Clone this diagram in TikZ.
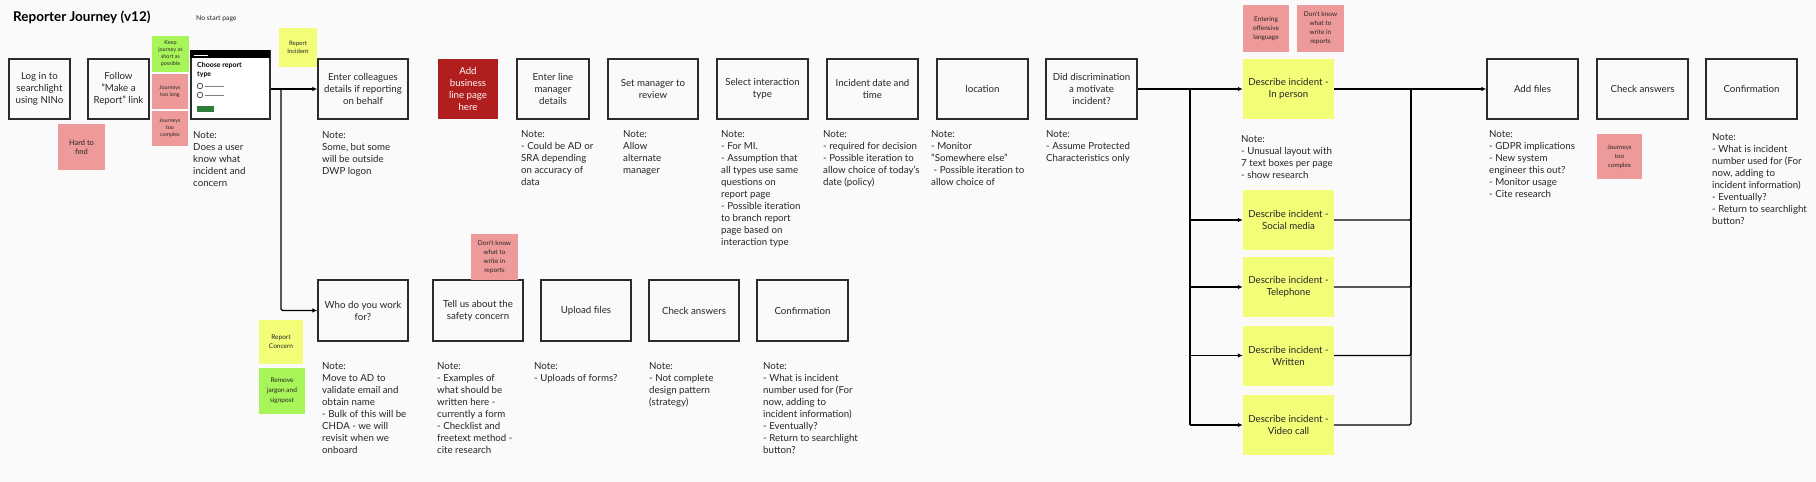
\documentclass[tikz,border=0pt]{standalone}
\usepackage{fontspec}
\setmainfont{Lato}
\usetikzlibrary{arrows.meta}
\definecolor{bgc}{HTML}{FAFAFA}
\definecolor{boxc}{HTML}{2B2B2B}
\definecolor{txt}{HTML}{262626}
\definecolor{pinkc}{HTML}{EF9A9A}
\definecolor{yellowc}{HTML}{F3FD78}
\definecolor{greenc}{HTML}{A8F55A}
\definecolor{darkred}{HTML}{B01E1E}
\definecolor{btngreen}{HTML}{2E7D3A}
\tikzset{
  stepbox/.style={draw=boxc, line width=1.3pt, minimum height=60pt, minimum width=91pt,
    align=center, font=\fontsize{9.7}{12}\selectfont, text=txt, inner sep=1pt},
  descbox/.style={fill=yellowc, minimum height=60pt, minimum width=91pt,
    align=center, font=\fontsize{9.7}{12}\selectfont, text=txt, inner sep=1pt},
  sticky/.style={minimum width=46pt, minimum height=46pt, align=center,
    font=\fontsize{6.5}{9}\selectfont, text=txt, inner sep=1pt},
  pinkst/.style={sticky, fill=pinkc},
  yellowst/.style={sticky, fill=yellowc},
  greenst/.style={sticky, fill=greenc},
  note/.style={anchor=north west, align=left, inner sep=0pt,
    font=\fontsize{9.7}{12}\selectfont, text=txt},
  conn/.style={draw=black, line width=1.2pt, rounded corners=1.5pt},
  trunk/.style={draw=black, line width=2pt},
  tip/.style={-{Latex[length=5pt,width=4.5pt]}}
}
\begin{document}
\begin{tikzpicture}[x=1pt,y=-1pt]
\fill[bgc] (0,0) rectangle (1816,482);
\useasboundingbox (0,0) rectangle (1816,482);

% title
\node[anchor=west, inner sep=0pt, font=\fontsize{13.5}{16}\selectfont\bfseries, text=black] (title) at (13,17) {Reporter Journey (v12)};
\node[anchor=west, inner sep=0pt, font=\fontsize{6.8}{8}\selectfont, text=txt] (nostart) at (196,19) {No start page};

% row 1
\node[stepbox, minimum width=61pt] (login) at (39.5,89) {Log in to\\searchlight\\using NINo};
\node[stepbox, minimum width=61pt] (follow) at (118.5,89) {Follow\\"Make a\\Report" link};
\node[greenst, minimum width=37pt, minimum height=36pt, font=\fontsize{5.4}{7}\selectfont] (keep) at (170.5,54) {Keep\\journey as\\short as\\possible};
\node[pinkst, minimum width=36pt, minimum height=35pt, font=\fontsize{5.4}{7}\selectfont] (toolong) at (170,91.5) {Journeys\\too long};
\node[pinkst, minimum width=36pt, minimum height=35pt, font=\fontsize{5.4}{7}\selectfont] (toocomplex) at (170,128.5) {Journeys\\too\\complex};
\node[pinkst, minimum width=47pt, minimum height=46pt, font=\fontsize{7.5}{9}\selectfont] (hard) at (81.5,147) {Hard to\\find};

% screenshot
\node[draw=boxc, line width=1.3pt, fill=white, minimum width=79pt, minimum height=68pt, inner sep=0pt] (ss) at (230.5,85) {};
\fill[black] (ss.north west) rectangle (270,58);
\draw[white, line width=0.8pt] (194,55) -- (208,55);
\node[anchor=north west, inner sep=0pt, align=left, font=\fontsize{7}{8.5}\selectfont\bfseries] (sstitle) at (197,62.5) {Choose report\\type};
\draw[boxc, line width=0.6pt] (200,86) circle (2.8pt);
\draw[boxc, line width=0.6pt] (200,95) circle (2.8pt);
\draw[gray, line width=0.7pt] (205,86) -- (224,86);
\draw[gray, line width=0.7pt] (205,95) -- (224,95);
\fill[btngreen] (197,106) rectangle (214,112);

\node[yellowst, minimum width=38pt, minimum height=39pt, font=\fontsize{6}{8}\selectfont] (repinc) at (298,47.5) {Report\\Incident};

\node[stepbox, minimum width=90pt] (coll) at (363,89) {Enter colleagues\\details if reporting\\on behalf};
\node[fill=darkred, minimum width=60pt, minimum height=60pt, align=center, text=white!92!pink, font=\fontsize{9.7}{12}\selectfont, inner sep=1pt] (business) at (468,89) {Add\\business\\line page\\here};
\node[stepbox, minimum width=72pt] (linemgr) at (553,89) {Enter line\\manager\\details};
\node[stepbox, minimum width=90pt] (setmgr) at (653,89) {Set manager to\\review};
\node[stepbox] (select) at (762.5,89) {Select interaction\\type};
\node[stepbox] (datetime) at (872.5,89) {Incident date and\\time};
\node[stepbox] (location) at (982.5,89) {location};
\node[stepbox] (did) at (1091.5,89) {Did discrimination\\a motivate\\incident?};

% describe incidents
\node[pinkst, minimum width=46pt, minimum height=47pt] (offensive) at (1266,28.5) {Entering\\offensive\\language};
\node[pinkst, minimum width=47pt, minimum height=47pt] (dontknowa) at (1320.5,28.5) {Don't know\\what to\\write in\\reports};
\node[descbox] (inp) at (1288.5,89) {Describe incident -\\In person};
\node[descbox] (soc) at (1288.5,220) {Describe incident -\\Social media};
\node[descbox] (tel) at (1288.5,287) {Describe incident -\\Telephone};
\node[descbox] (wri) at (1288.5,355.5) {Describe incident -\\Written};
\node[descbox] (vid) at (1288.5,425) {Describe incident -\\Video call};

\node[stepbox] (addf) at (1532.5,89) {Add files};
\node[stepbox] (checka) at (1642.5,89) {Check answers};
\node[stepbox] (confa) at (1751.5,89) {Confirmation};
\node[pinkst, minimum width=45pt, minimum height=45pt, font=\fontsize{6.2}{9}\selectfont] (complexb) at (1619.5,156.5) {Journeys\\too\\complex};

% row 2
\node[stepbox, minimum width=90pt, minimum height=61pt] (who) at (363,310.5) {Who do you work\\for?};
\node[stepbox, minimum width=90pt, minimum height=61pt] (tell) at (478,310.5) {Tell us about the\\safety concern};
\node[stepbox, minimum width=90pt, minimum height=61pt] (upload) at (586,310.5) {Upload files};
\node[stepbox, minimum width=90pt, minimum height=61pt] (checkb) at (694,310.5) {Check answers};
\node[stepbox, minimum width=91pt, minimum height=61pt] (confb) at (802.5,310.5) {Confirmation};
\node[pinkst, minimum width=47pt, minimum height=46pt] (dontknowb) at (494.5,257) {Don't know\\what to\\write in\\reports};
\node[yellowst, minimum width=44pt, minimum height=44pt] (repcon) at (281,342) {Report\\Concern};
\node[greenst, minimum width=46pt, minimum height=46pt, font=\fontsize{6.5}{10}\selectfont] (jargon) at (282,391) {Remove\\jargon and\\signpost};

% notes
\node[note] (nss) at (193,131) {Note:\\Does a user\\know what\\incident and\\concern};
\node[note] (ncoll) at (322,131) {Note:\\Some, but some\\will be outside\\DWP logon};
\node[note] (nlm) at (521,130) {Note:\\- Could be AD or\\SRA depending\\on accuracy of\\data};
\node[note] (nsm) at (623,130) {Note:\\Allow\\alternate\\manager};
\node[note] (nsel) at (721,130) {Note:\\- For MI.\\- Assumption that\\all types use same\\questions on\\report page\\- Possible iteration\\to branch report\\page based on\\interaction type};
\node[note] (ndt) at (823,130) {Note:\\- required for decision\\- Possible iteration to\\allow choice of today's\\date (policy)};
\node[note] (nloc) at (931,130) {Note:\\- Monitor\\"Somewhere else"\\\ - Possible iteration to\\allow choice of};
\node[note] (ndid) at (1046,130) {Note:\\- Assume Protected\\Characteristics only};
\node[note] (ninp) at (1241,135) {Note:\\- Unusual layout with\\7 text boxes per page\\- show research};
\node[note] (nadd) at (1489,130) {Note:\\- GDPR implications\\- New system\\engineer this out?\\- Monitor usage\\- Cite research};
\node[note] (nconfa) at (1712,133) {Note:\\- What is incident\\number used for (For\\now, adding to\\incident information)\\- Eventually?\\- Return to searchlight\\button?};
\node[note] (nwho) at (322,362) {Note:\\Move to AD to\\validate email and\\obtain name\\- Bulk of this will be\\CHDA - we will\\revisit when we\\onboard};
\node[note] (ntell) at (437,362) {Note:\\- Examples of\\what should be\\written here -\\currently a form\\- Checklist and\\freetext method -\\cite research};
\node[note] (nup) at (534,362) {Note:\\- Uploads of forms?};
\node[note] (nchkb) at (649,362) {Note:\\- Not complete\\design pattern\\(strategy)};
\node[note] (nconfb) at (763,362) {Note:\\- What is incident\\number used for (For\\now, adding to\\incident information)\\- Eventually?\\- Return to searchlight\\button?};

% connectors
\coordinate (ja) at (281,89);
\draw[trunk, tip] (ss.east |- coll.west) -- (coll.west);
\draw[conn, tip] (ja) -- (ja |- who.west) -- (who.west);

\coordinate (jb) at (1190,89);
\coordinate (jc) at (1411,89);
\draw[trunk] (did.east) -- (jb);
\draw[trunk] (jb) -- (jb |- vid.west);
\draw[conn, tip] (jb) -- (inp.west);
\foreach \b in {soc,tel,wri,vid} {
  \draw[conn, tip] (jb |- \b.west) -- (\b.west);
}
\draw[conn] (inp.east) -- (jc);
\foreach \b in {soc,tel,wri,vid} {
  \draw[conn] (\b.east) -- (jc |- \b.east) -- (jc);
}
\draw[trunk, tip] (jc) -- (addf.west);
\end{tikzpicture}
\end{document}
